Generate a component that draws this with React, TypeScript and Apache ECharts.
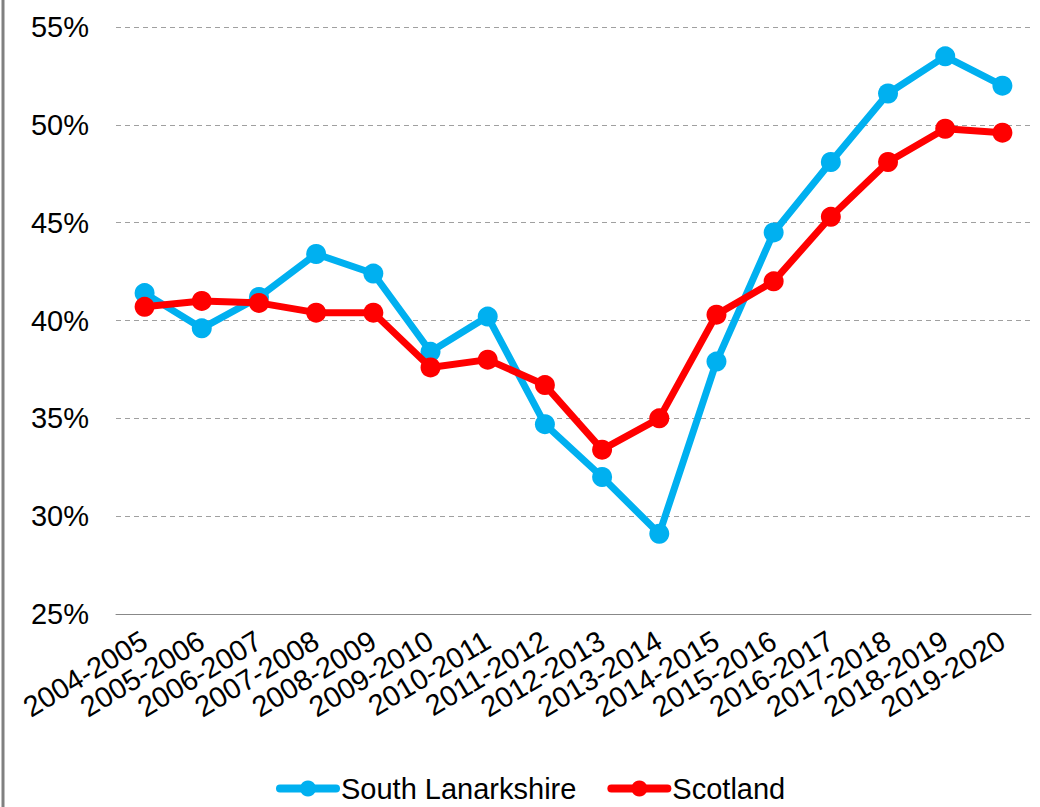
import React, { useEffect, useRef } from "react";
import * as echarts from "echarts";

const categories = [
  "2004-2005", "2005-2006", "2006-2007", "2007-2008", "2008-2009", "2009-2010",
  "2010-2011", "2011-2012", "2012-2013", "2013-2014", "2014-2015", "2015-2016",
  "2016-2017", "2017-2018", "2018-2019", "2019-2020",
];
const southLanarkshire = [41.4, 39.6, 41.2, 43.4, 42.4, 38.4, 40.2, 34.7, 32.0, 29.1, 37.9, 44.5, 48.1, 51.6, 53.5, 52.0];
const scotland = [40.7, 41.0, 40.9, 40.4, 40.4, 37.6, 38.0, 36.7, 33.4, 35.0, 40.3, 42.0, 45.3, 48.1, 49.8, 49.6];
const seriesNames = ["South Lanarkshire", "Scotland"];
const yMin = 25;
const yMax = 55;
const yStep = 5;

export default function App() {
  const ref = useRef<HTMLDivElement>(null);
  useEffect(() => {
    if (!ref.current) return;
    const chart = echarts.init(ref.current, null, { renderer: "svg" });
    const font = "Arial, 'Liberation Sans', sans-serif";
    chart.setOption({
      animation: false,
      backgroundColor: "#ffffff",
      grid: { left: 116, right: 9, top: 27, bottom: 193, containLabel: false },
      legend: {
        left: 276,
        top: 774,
        padding: 0,
        itemWidth: 56,
        itemHeight: 20,
        itemGap: 31,
        lineStyle: { width: 8, cap: "round" },
        textStyle: { fontFamily: font, fontSize: 29, color: "#000" },
        data: seriesNames,
      },
      xAxis: {
        type: "category",
        data: categories,
        boundaryGap: true,
        axisLine: { show: true, lineStyle: { color: "#888", width: 1 } },
        axisTick: { show: false },
        axisLabel: {
          interval: 0,
          rotate: 31,
          margin: 24,
          fontFamily: font,
          fontSize: 29,
          color: "#000",
        },
      },
      yAxis: {
        type: "value",
        min: yMin,
        max: yMax,
        interval: yStep,
        axisLine: { show: false },
        axisTick: { show: false },
        axisLabel: {
          formatter: "{value}%",
          margin: 27,
          fontFamily: font,
          fontSize: 29,
          color: "#000",
        },
        splitLine: { show: true, lineStyle: { color: "#a0a0a0", type: [5, 4], width: 1 } },
      },
      graphic: [
        {
          type: "line",
          shape: { x1: 3, y1: 0, x2: 3, y2: 807 },
          style: { stroke: "#808080", lineWidth: 3 },
        },
      ],
      series: [
        {
          name: seriesNames[0],
          type: "line",
          data: southLanarkshire,
          color: "#00b0f0",
          symbol: "circle",
          symbolSize: 20,
          lineStyle: { width: 7, color: "#00b0f0" },
          itemStyle: { color: "#00b0f0" },
          z: 2,
        },
        {
          name: seriesNames[1],
          type: "line",
          data: scotland,
          color: "#ff0000",
          symbol: "circle",
          symbolSize: 20,
          lineStyle: { width: 7, color: "#ff0000" },
          itemStyle: { color: "#ff0000" },
          z: 3,
        },
      ],
    });
    return () => chart.dispose();
  }, []);
  return (
    <div
      ref={ref}
      style={{ position: "absolute", left: 0, top: 0, width: 1040, height: 807 }}
    />
  );
}
